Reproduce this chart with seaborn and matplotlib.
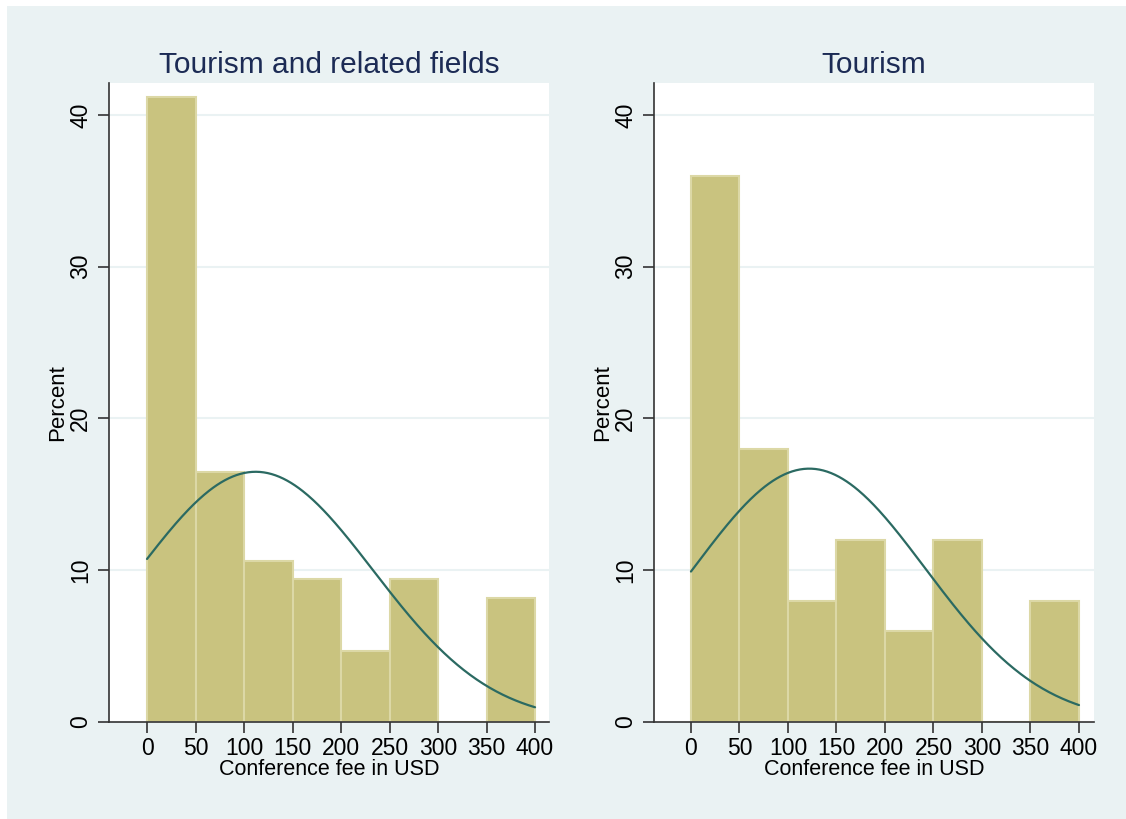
import numpy as np
import pandas as pd
import matplotlib
matplotlib.use("Agg")
import matplotlib.pyplot as plt
import seaborn as sns
from matplotlib.patches import Rectangle

# ---- data ----
bin_edges = [0, 50, 100, 150, 200, 250, 300, 350, 400]
panel_titles = ["Tourism and related fields", "Tourism"]
pct_related = [41.2, 16.5, 10.6, 9.4, 4.7, 9.4, 0.0, 8.2]
pct_tourism = [36.0, 18.0, 8.0, 12.0, 6.0, 12.0, 0.0, 8.0]
norm_mean = [112.0, 122.0]
norm_sd = [121.0, 119.5]
x_ticks = [0, 50, 100, 150, 200, 250, 300, 350, 400]
y_ticks = [0, 10, 20, 30, 40]
x_label = "Conference fee in USD"
y_label = "Percent"

BG = "#EAF2F3"
BAR = "#C9C37F"
BAR_EDGE = "#DCD8A6"
LINE = "#2B6A62"
TITLE_C = "#1C2B55"
AXC = "#333333"

sns.set_theme(style="white")
plt.rcParams['font.family'] = ['Liberation Sans', 'DejaVu Sans']

fig = plt.figure(figsize=(11.26, 8.19), dpi=100, facecolor="white")
fig.patches.append(Rectangle((7 / 1126, 0), 1 - 7 / 1126, 1 - 6 / 819,
                             transform=fig.transFigure, facecolor=BG,
                             edgecolor="none", zorder=-10))

axes_pos = [
    [109 / 1126, 1 - 722 / 819, 440 / 1126, (722 - 83) / 819],
    [654 / 1126, 1 - 722 / 819, 440 / 1126, (722 - 83) / 819],
]
xlims = [(-39.2, 414.4), (-38.1, 415.5)]
datasets = [pct_related, pct_tourism]

for i in range(2):
    ax = fig.add_axes(axes_pos[i])
    ax.set_facecolor("white")
    centers = [(bin_edges[k] + bin_edges[k + 1]) / 2 for k in range(len(bin_edges) - 1)]
    df = pd.DataFrame({"fee": centers, "pct": datasets[i]})
    sns.histplot(data=df, x="fee", weights="pct", bins=bin_edges, ax=ax,
                 color=BAR, edgecolor=BAR_EDGE, linewidth=1.5, alpha=1, zorder=2)
    xs = np.linspace(0, 400, 300)
    ys = 100 * 50 / (norm_sd[i] * np.sqrt(2 * np.pi)) * np.exp(-0.5 * ((xs - norm_mean[i]) / norm_sd[i]) ** 2)
    sns.lineplot(x=xs, y=ys, ax=ax, color=LINE, linewidth=1.6, zorder=3)

    ax.set_xlim(*xlims[i])
    ax.set_ylim(0, 42.1)
    ax.set_xticks(x_ticks)
    ax.set_yticks(y_ticks)
    ax.set_xticklabels([str(t) for t in x_ticks], fontsize=16.5, color="black")
    ax.set_yticklabels([str(t) for t in y_ticks], fontsize=16.5, color="black",
                       rotation=90, va="center")
    for t in y_ticks[1:]:
        ax.axhline(t, color=BG, linewidth=1.5, zorder=1)
    ax.tick_params(axis="both", direction="out", length=8, width=1.2, color=AXC,
                   bottom=True, left=True)
    ax.tick_params(axis="x", pad=3)
    ax.tick_params(axis="y", pad=4)
    for s in ["top", "right"]:
        ax.spines[s].set_visible(False)
    for s in ["left", "bottom"]:
        ax.spines[s].set_color(AXC)
        ax.spines[s].set_linewidth(1.2)
    ax.set_xlabel(x_label, fontsize=15.5, color="black", labelpad=-1)
    ax.set_ylabel(y_label, fontsize=16, color="black", labelpad=1)
    ax.set_title(panel_titles[i], fontsize=21.5, color=TITLE_C, pad=7)
    ax.grid(False)

fig.savefig("out.png", dpi=100, facecolor="white")
